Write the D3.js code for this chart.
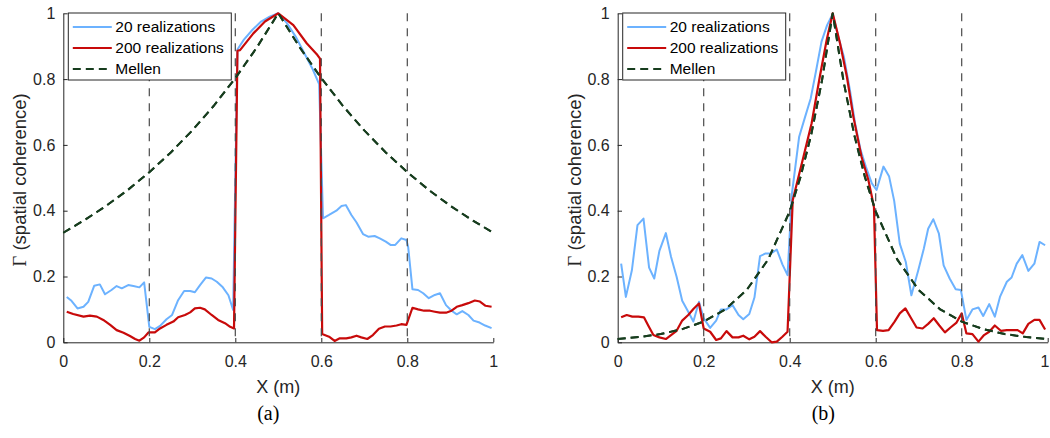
<!DOCTYPE html>
<html>
<head>
<meta charset="utf-8">
<script src="https://cdn.jsdelivr.net/npm/d3@7"></script>
<style>
  html, body { margin: 0; padding: 0; background: #fff; }
  svg { display: block; }
</style>
</head>
<body>
<svg id="chart" width="1050" height="438"></svg>
<script>
// ---------- data ----------
const xTicks = [0, 0.2, 0.4, 0.6, 0.8, 1];
const xTickLabels = ["0", "0.2", "0.4", "0.6", "0.8", "1"];
const yTicks = [0, 0.2, 0.4, 0.6, 0.8, 1];
const yTickLabels = ["0", "0.2", "0.4", "0.6", "0.8", "1"];
const boundaries = [0.2, 0.4, 0.6, 0.8];
const seriesNames = ["20 realizations", "200 realizations", "Mellen"];
const panelLabels = ["(a)", "(b)"];
const xLabel = "X (m)";

// panel (a)
const a20 = [[0.008,0.138],[0.019,0.126],[0.033,0.103],[0.047,0.108],[0.058,0.123],[0.072,0.172],[0.085,0.176],[0.097,0.146],[0.112,0.159],[0.124,0.171],[0.136,0.164],[0.151,0.174],[0.163,0.171],[0.177,0.167],[0.188,0.182],[0.2,0.047],[0.213,0.040],[0.225,0.05],[0.24,0.07],[0.253,0.083],[0.267,0.128],[0.281,0.156],[0.295,0.156],[0.306,0.152],[0.318,0.174],[0.332,0.197],[0.345,0.194],[0.357,0.184],[0.371,0.167],[0.384,0.143],[0.395,0.098],
  [0.405,0.89],[0.42,0.92],[0.44,0.95],[0.46,0.975],[0.48,0.99],[0.5,1.0],[0.52,0.97],[0.54,0.93],[0.56,0.88],[0.58,0.83],[0.595,0.785],
  [0.604,0.377],[0.618,0.387],[0.635,0.400],[0.647,0.414],[0.657,0.417],[0.67,0.387],[0.682,0.364],[0.697,0.329],[0.709,0.321],[0.724,0.323],[0.736,0.316],[0.75,0.306],[0.761,0.296],[0.772,0.296],[0.786,0.316],[0.798,0.311],[0.802,0.29],[0.812,0.161],[0.825,0.159],[0.837,0.149],[0.85,0.134],[0.864,0.144],[0.876,0.149],[0.89,0.113],[0.903,0.096],[0.915,0.085],[0.928,0.095],[0.942,0.083],[0.954,0.066],[0.968,0.060],[0.981,0.051],[0.996,0.043]];
const a200 = [[0.008,0.093],[0.023,0.086],[0.047,0.078],[0.062,0.081],[0.078,0.078],[0.093,0.068],[0.109,0.053],[0.124,0.037],[0.14,0.029],[0.155,0.019],[0.167,0.010],[0.177,0.005],[0.188,0.015],[0.198,0.030],[0.213,0.030],[0.225,0.042],[0.24,0.053],[0.256,0.063],[0.267,0.076],[0.283,0.083],[0.295,0.091],[0.306,0.103],[0.318,0.105],[0.329,0.100],[0.345,0.083],[0.36,0.068],[0.376,0.058],[0.388,0.047],[0.397,0.042],
  [0.405,0.886],[0.411,0.888],[0.442,0.939],[0.469,0.975],[0.5,1.0],[0.535,0.964],[0.566,0.909],[0.591,0.873],[0.597,0.862],
  [0.602,0.025],[0.618,0.017],[0.631,0.004],[0.643,0.012],[0.658,0.012],[0.67,0.015],[0.682,0.020],[0.693,0.015],[0.707,0.010],[0.72,0.022],[0.734,0.041],[0.748,0.048],[0.761,0.048],[0.775,0.051],[0.786,0.055],[0.798,0.053],[0.812,0.105],[0.825,0.100],[0.839,0.096],[0.853,0.096],[0.864,0.093],[0.876,0.090],[0.89,0.090],[0.903,0.096],[0.915,0.108],[0.928,0.113],[0.942,0.119],[0.957,0.127],[0.969,0.124],[0.982,0.111],[0.996,0.108]];
const aMellen = [[0,0.333],[0.05,0.372],[0.1,0.415],[0.15,0.463],[0.2,0.517],[0.25,0.577],[0.3,0.644],[0.35,0.719],[0.4,0.803],[0.45,0.896],[0.5,1.0],[0.55,0.896],[0.6,0.803],[0.65,0.719],[0.7,0.644],[0.75,0.577],[0.8,0.517],[0.85,0.463],[0.9,0.415],[0.95,0.372],[1,0.333]];

// panel (b)
const b20 = [[0.008,0.239],[0.019,0.138],[0.033,0.219],[0.046,0.356],[0.06,0.376],[0.073,0.227],[0.085,0.194],[0.097,0.278],[0.112,0.332],[0.124,0.26],[0.137,0.199],[0.15,0.126],[0.164,0.093],[0.176,0.063],[0.189,0.123],[0.2,0.073],[0.215,0.044],[0.229,0.066],[0.24,0.1],[0.253,0.1],[0.267,0.113],[0.281,0.083],[0.292,0.07],[0.306,0.086],[0.318,0.136],[0.331,0.262],[0.344,0.27],[0.357,0.27],[0.37,0.282],[0.383,0.237],[0.395,0.204],
  [0.405,0.45],[0.422,0.625],[0.436,0.686],[0.449,0.742],[0.461,0.823],[0.474,0.914],[0.487,0.964],[0.5,0.998],[0.513,0.929],[0.526,0.868],[0.54,0.767],[0.552,0.666],[0.565,0.584],[0.577,0.534],[0.591,0.483],[0.602,0.463],[0.618,0.534],[0.631,0.505],[0.643,0.43],[0.656,0.30],[0.67,0.244],[0.683,0.143],[0.699,0.219],[0.712,0.285],[0.722,0.345],[0.734,0.374],[0.747,0.33],[0.758,0.234],[0.772,0.194],[0.786,0.161],[0.798,0.159],[0.811,0.068],[0.825,0.1],[0.839,0.106],[0.85,0.08],[0.864,0.116],[0.877,0.078],[0.889,0.138],[0.905,0.184],[0.916,0.197],[0.928,0.239],[0.941,0.265],[0.955,0.217],[0.969,0.239],[0.981,0.305],[0.994,0.295]];
const b200 = [[0.008,0.076],[0.021,0.083],[0.034,0.078],[0.048,0.078],[0.061,0.076],[0.071,0.051],[0.083,0.022],[0.097,0.015],[0.112,0.01],[0.124,0.022],[0.137,0.035],[0.15,0.066],[0.164,0.083],[0.176,0.101],[0.189,0.118],[0.2,0.042],[0.215,0.032],[0.229,0.007],[0.24,0.012],[0.253,0.034],[0.267,0.015],[0.281,0.015],[0.292,0.02],[0.306,0.009],[0.318,0.017],[0.331,0.034],[0.344,0.017],[0.358,0.0],[0.37,0.002],[0.383,0.017],[0.395,0.032],
  [0.407,0.432],[0.432,0.564],[0.451,0.666],[0.47,0.807],[0.486,0.919],[0.5,1.0],[0.517,0.909],[0.533,0.807],[0.548,0.686],[0.567,0.564],[0.583,0.493],[0.591,0.443],[0.596,0.41],
  [0.603,0.037],[0.617,0.035],[0.63,0.037],[0.644,0.063],[0.656,0.088],[0.669,0.103],[0.681,0.076],[0.695,0.045],[0.709,0.042],[0.722,0.056],[0.735,0.073],[0.748,0.051],[0.761,0.03],[0.774,0.045],[0.788,0.06],[0.8,0.088],[0.811,0.027],[0.825,0.025],[0.839,0.002],[0.852,0.022],[0.864,0.032],[0.877,0.051],[0.891,0.035],[0.905,0.037],[0.918,0.037],[0.93,0.037],[0.942,0.027],[0.955,0.056],[0.969,0.068],[0.981,0.068],[0.994,0.039]];
const bMellen = [[0,0.010],[0.05,0.016],[0.1,0.025],[0.15,0.040],[0.2,0.063],[0.25,0.100],[0.3,0.159],[0.35,0.252],[0.4,0.398],[0.425,0.502],[0.45,0.631],[0.475,0.795],[0.5,1.0],[0.525,0.795],[0.55,0.631],[0.575,0.502],[0.6,0.398],[0.65,0.252],[0.7,0.159],[0.75,0.100],[0.8,0.063],[0.85,0.040],[0.9,0.025],[0.95,0.016],[1,0.010]];

// ---------- styles ----------
const colors = ["#6cb2ff", "#c80a0a", "#173d1e"];
const widths = [2, 2.2, 2];
const dashes = [null, null, "8,5"];
const axisColor = "#262626";
const sans = "'Liberation Sans', Arial, Helvetica, sans-serif";
const serif = "'Liberation Serif', 'Times New Roman', serif";

const panels = [
  { left: 63.3, series: [a20, a200, aMellen], label: panelLabels[0], labelX: 268.3 },
  { left: 617.7, series: [b20, b200, bMellen], label: panelLabels[1], labelX: 823.3 }
];
const plotW = 430, plotTop = 13.3, plotBottom = 342.3;
const svgWidth = 1050;

const svg = d3.select("#chart");

panels.forEach(p => {
  const x = d3.scaleLinear().domain([0, 1]).range([p.left, p.left + plotW]);
  const y = d3.scaleLinear().domain([0, 1]).range([plotBottom, plotTop]);
  const g = svg.append("g");

  // axes
  const xAxis = d3.axisBottom(x).tickValues(xTicks)
    .tickFormat((d, i) => xTickLabels[i]).tickSizeInner(-4.3).tickSizeOuter(0).tickPadding(13);
  const yAxis = d3.axisLeft(y).tickValues(yTicks)
    .tickFormat((d, i) => yTickLabels[i]).tickSizeInner(-4.3).tickSizeOuter(0).tickPadding(8);

  const gx = g.append("g").attr("transform", `translate(0,${plotBottom})`).call(xAxis);
  const gy = g.append("g").attr("transform", `translate(${p.left},0)`).call(yAxis);
  [gx, gy].forEach(ax => {
    ax.selectAll("path.domain").attr("stroke", axisColor).attr("stroke-width", 1);
    ax.selectAll(".tick line").attr("stroke", axisColor).attr("stroke-width", 1);
    ax.selectAll(".tick text").attr("fill", axisColor)
      .style("font-family", sans).style("font-size", "16px");
  });
  // keep the last x tick label inside the page
  gx.selectAll(".tick text").each(function(d) {
    if (x(d) + 5 > svgWidth) {
      d3.select(this).attr("text-anchor", "end").attr("x", svgWidth - 1 - x(d));
    }
  });

  // data lines
  const line = d3.line().x(d => x(d[0])).y(d => y(d[1]));
  p.series.forEach((s, i) => {
    g.append("path").datum(s)
      .attr("d", line)
      .attr("fill", "none")
      .attr("stroke", colors[i])
      .attr("stroke-width", widths[i])
      .attr("stroke-linejoin", "round")
      .attr("stroke-dasharray", dashes[i]);
  });

  // boundaries
  g.selectAll("line.bnd").data(boundaries).enter().append("line")
    .attr("class", "bnd")
    .attr("x1", d => x(d)).attr("x2", d => x(d))
    .attr("y1", y(1)).attr("y2", y(0))
    .attr("stroke", "#4a4a4a").attr("stroke-width", 1.2)
    .attr("stroke-dasharray", "8,7");

  // redraw Mellen on top
  g.append("path").datum(p.series[2])
    .attr("d", line).attr("fill", "none")
    .attr("stroke", colors[2]).attr("stroke-width", widths[2])
    .attr("stroke-dasharray", dashes[2]);

  // legend
  const lx = p.left + 5, ly = 13;
  const lg = g.append("g");
  lg.append("rect").attr("x", lx).attr("y", ly).attr("width", 163).attr("height", 67)
    .attr("fill", "#fff").attr("stroke", axisColor).attr("stroke-width", 1);
  seriesNames.forEach((name, i) => {
    const yy = ly + 14 + i * 21;
    lg.append("line").attr("x1", lx + 4.5).attr("x2", lx + 43.5)
      .attr("y1", yy).attr("y2", yy)
      .attr("stroke", colors[i]).attr("stroke-width", widths[i])
      .attr("stroke-dasharray", dashes[i]);
    lg.append("text").attr("x", lx + 47).attr("y", yy).attr("dy", "0.35em")
      .attr("fill", "#000").style("font-family", sans).style("font-size", "15.5px")
      .text(name);
  });

  // x label
  g.append("text").attr("x", p.left + plotW / 2).attr("y", 393.3)
    .attr("text-anchor", "middle").attr("fill", axisColor)
    .style("font-family", sans).style("font-size", "18px").text(xLabel);

  // y label
  const yl = g.append("text")
    .attr("transform", `translate(${p.left - 37},${(plotTop + plotBottom) / 2 + 2}) rotate(-90)`)
    .attr("text-anchor", "middle").attr("fill", axisColor)
    .style("font-family", sans).style("font-size", "18.5px");
  yl.append("tspan").style("font-family", serif).text("Γ");
  yl.append("tspan").text(" (spatial coherence)");

  // panel label
  g.append("text").attr("x", p.labelX).attr("y", 420)
    .attr("text-anchor", "middle").attr("fill", "#000")
    .style("font-family", serif).style("font-size", "20px").text(p.label);
});
</script>
</body>
</html>
